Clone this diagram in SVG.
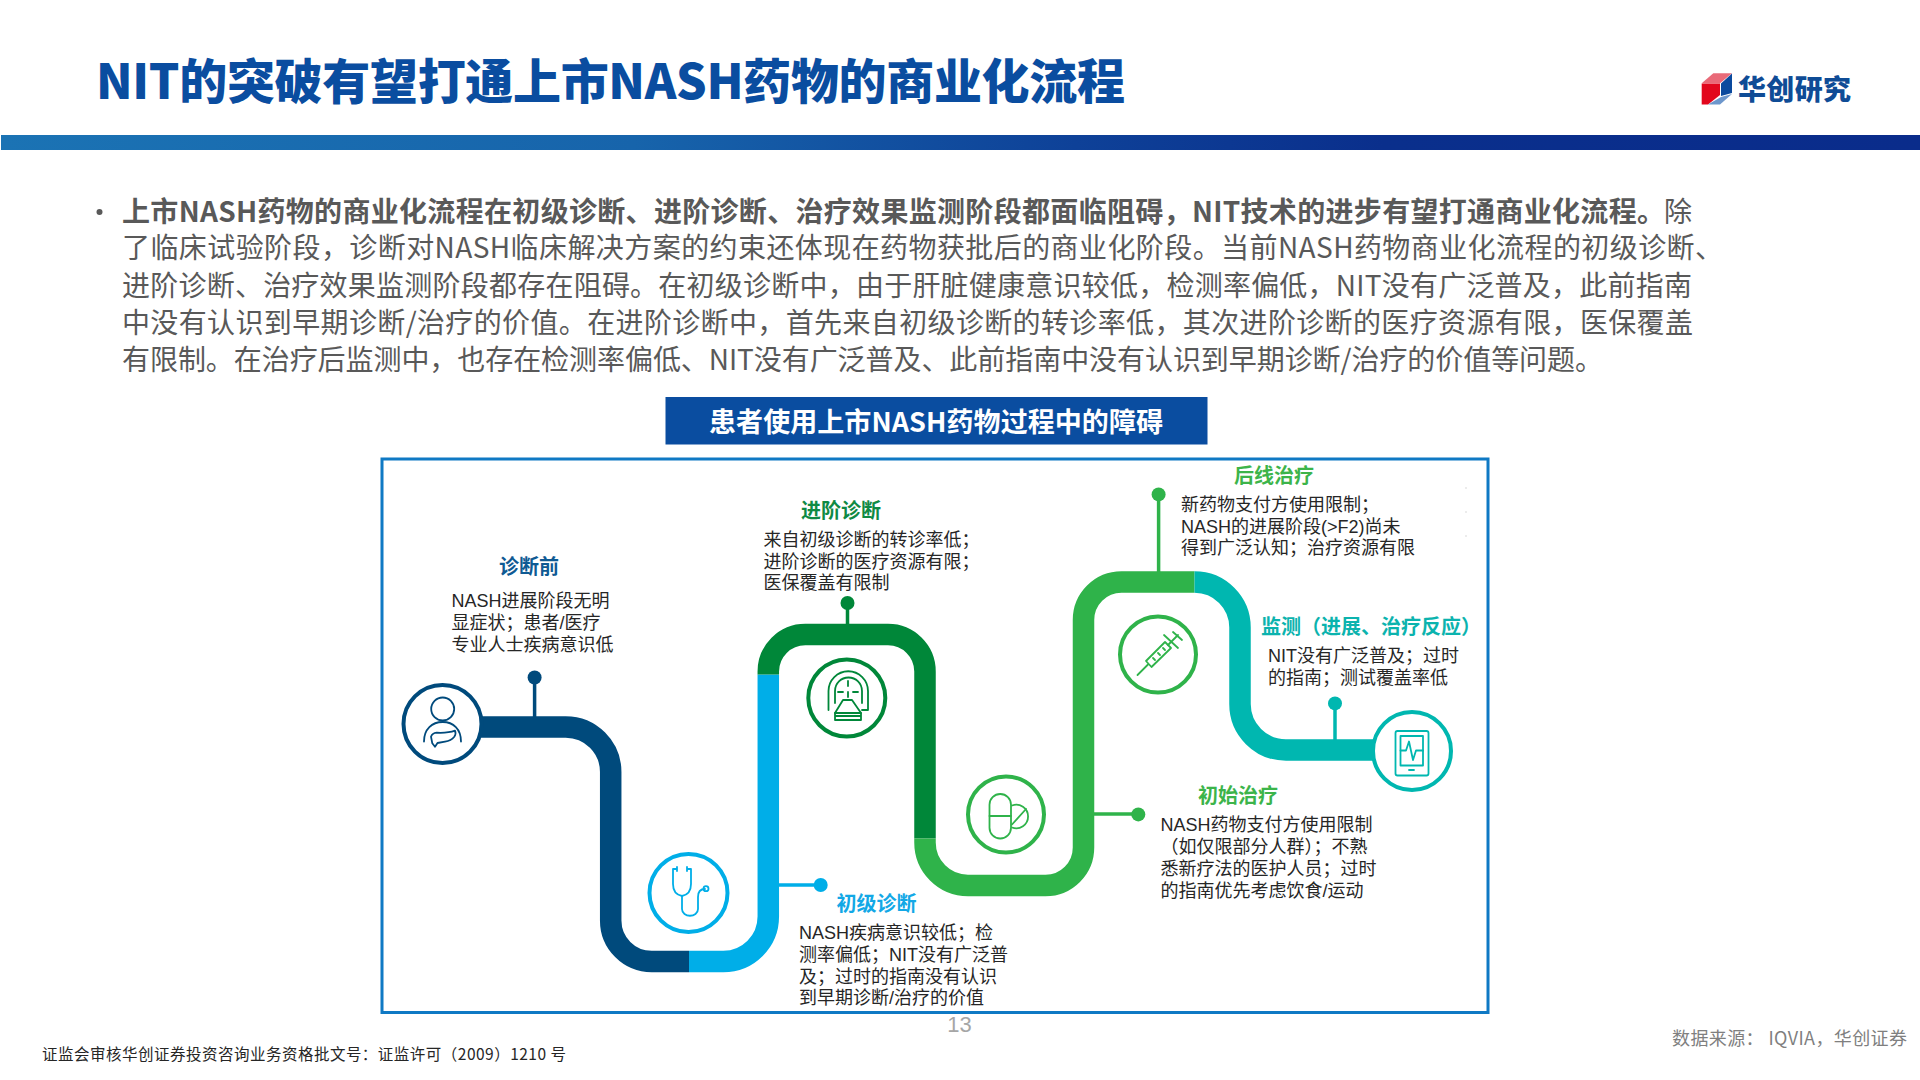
<svg xmlns="http://www.w3.org/2000/svg" width="1920" height="1080" viewBox="0 0 1920 1080">
<style>
text{font-family:"Liberation Sans","Noto Sans CJK SC",sans-serif}
.cjk{font-family:"Noto Sans CJK SC","Liberation Sans",sans-serif}
.p{font-size:28px;fill:#595959}
.b{font-weight:700}
.t{font-size:18px;fill:#262626}
.h{font-size:20px;font-weight:700;font-family:"Noto Sans CJK SC",sans-serif}
.seg{fill:none;stroke-width:21.5}
.stem{fill:none;stroke-width:3.5}
.ring{fill:#fff;stroke-width:4}
.ic{fill:none;stroke-width:1.8;stroke-linecap:round;stroke-linejoin:round}
</style>
<defs>
<linearGradient id="bar" x1="0" x2="1" y1="0" y2="0">
<stop offset="0" stop-color="#1b73b4"/><stop offset="0.33" stop-color="#1764ab"/><stop offset="0.56" stop-color="#0e4198"/><stop offset="0.72" stop-color="#0a2f8c"/><stop offset="1" stop-color="#0a2c8b"/>
</linearGradient>
</defs>
<rect width="1920" height="1080" fill="#fff"/>
<rect x="1" y="135" width="1919" height="15" fill="url(#bar)"/>
<text class="cjk" x="96" y="99" font-size="48" font-weight="900" fill="#0a4da0" textLength="1029">NIT的突破有望打通上市NASH药物的商业化流程</text>
<g id="logo">
<polygon points="1701.7,83.3 1713.3,73.3 1732,73.3 1720,83.3" fill="#e96a78"/>
<polygon points="1701.7,83.5 1720,83.5 1720,95 1708,104.5 1701.7,104.500" fill="#e2071d"/>
<polygon points="1721,83.5 1732,73.500 1732,93 1721,96" fill="#0b4a9e"/>
<polygon points="1708,104.5 1720,104.500 1732,94 1721,97" fill="#6d97cc"/>
<text class="cjk" x="1738" y="100" font-size="28" font-weight="900" fill="#0f4c96" textLength="113">华创研究</text>
</g>
<circle cx="99.5" cy="212" r="3" fill="#595959"/>
<g>
<text class="p b cjk" x="122" y="222" textLength="1543">上市NASH药物的商业化流程在初级诊断、进阶诊断、治疗效果监测阶段都面临阻碍，NIT技术的进步有望打通商业化流程。</text>
<text class="p cjk" x="1664" y="222">除</text>
<text class="p cjk" x="122" y="258" textLength="1601">了临床试验阶段，诊断对NASH临床解决方案的约束还体现在药物获批后的商业化阶段。当前NASH药物商业化流程的初级诊断、</text>
<text class="p cjk" x="122" y="296" textLength="1570">进阶诊断、治疗效果监测阶段都存在阻碍。在初级诊断中，由于肝脏健康意识较低，检测率偏低，NIT没有广泛普及，此前指南</text>
<text class="p cjk" x="122" y="333" textLength="1571">中没有认识到早期诊断/治疗的价值。在进阶诊断中，首先来自初级诊断的转诊率低，其次进阶诊断的医疗资源有限，医保覆盖</text>
<text class="p cjk" x="122" y="370" textLength="1481">有限制。在治疗后监测中，也存在检测率偏低、NIT没有广泛普及、此前指南中没有认识到早期诊断/治疗的价值等问题。</text>
</g>
<g id="banner">
<rect x="665.5" y="397" width="542" height="47.500" fill="#0a4da0"/>
<text class="cjk" x="709" y="432" font-size="27" font-weight="700" fill="#fff" textLength="454">患者使用上市NASH药物过程中的障碍</text>
</g>
<rect id="frame" x="382" y="459" width="1106" height="553.500" fill="#fff" stroke="#0f79c4" stroke-width="3"/>
<path d="M1466 487v50" stroke="#d9d9d9" stroke-width="1" stroke-dasharray="2 22" fill="none"/>
<g id="connectors">
<path class="seg" stroke="#004a7c" d="M470 727H565.7A45 45 0 0 1 610.7 772V920.5A41 41 0 0 0 651.7 961.5H689"/>
<path class="seg" stroke="#00aee8" d="M689 961.5H723.3A45 45 0 0 0 768.3 916.5V674.6"/>
<path class="seg" stroke="#008739" d="M768.3 674.6V671.5A37 37 0 0 1 805.3 634.5H888A37 37 0 0 1 925 671.5V838.5"/>
<path class="seg" stroke="#2fb34a" d="M925 838.5V842.5A43 43 0 0 0 968 885.5H1045.5A38 38 0 0 0 1083.5 847.5V620A38 38 0 0 1 1121.5 582H1194.5"/>
<path class="seg" stroke="#00b7b0" d="M1194.5 582A45.5 45.5 0 0 1 1240 627.5V704A46 46 0 0 0 1286 750H1380"/>
<path class="stem" stroke="#004a7c" d="M534.6 677V717"/>
<path class="stem" stroke="#00aee8" d="M778 885H821"/>
<path class="stem" stroke="#008739" d="M847.5 603V625"/>
<path class="stem" stroke="#2fb34a" d="M1093 814H1138"/>
<path class="stem" stroke="#2fb34a" d="M1158.6 494V572"/>
<path class="stem" stroke="#00b7b0" d="M1335 703V740"/>
<circle cx="534.6" cy="677.5" r="7" fill="#004a7c"/>
<circle cx="820.7" cy="885" r="7" fill="#00aee8"/>
<circle cx="847.5" cy="603" r="7" fill="#008739"/>
<circle cx="1138.3" cy="814.4" r="7" fill="#2fb34a"/>
<circle cx="1158.6" cy="494.4" r="7" fill="#2fb34a"/>
<circle cx="1335" cy="703.4" r="7" fill="#00b7b0"/>
</g>
<g id="node-prediagnosis">
<circle class="ring" cx="442.5" cy="724" r="39" stroke="#004a7c"/>
<g class="ic" stroke="#004a7c">
<circle cx="442.7" cy="709" r="11.5"/>
<path d="M424 741.5C424 729 432 722 442.7 722S461 729 461 741.5"/>
<path d="M431 736.700C432 734 434 733 436.700 732.700C443 733 450 732.500 455 730.700C456 733 455.500 735 454.300 736.700C452 739.500 449 741 445 741.700L437.500 743L435 746.700L432.300 743.300Z"/>
</g>
<text class="h" x="499" y="573.500" fill="#0f5a93">诊断前</text>
<text class="t" x="451.500" y="607">NASH进展阶段无明</text>
<text class="t" x="451.500" y="629">显症状；患者/医疗</text>
<text class="t" x="451.500" y="651">专业人士疾病意识低</text>
</g>
<g id="node-initial-diagnosis">
<circle class="ring" cx="688.500" cy="893" r="39" stroke="#00aee8"/>
<g class="ic" stroke="#00aee8">
<path d="M677 869H673V884C673 892 677 895 682 896C687 895 691 892 691 884V869H687M677 867V871M687 867V871"/>
<path d="M682 896V909C682 918 698 918 698 909V897C698 891 701 889 705 889"/>
<circle cx="706" cy="888.700" r="2.500"/>
</g>
<text class="h" x="836.500" y="911" fill="#13a8e6">初级诊断</text>
<text class="t" x="799" y="939">NASH疾病意识较低；检</text>
<text class="t" x="799" y="960.500">测率偏低；NIT没有广泛普</text>
<text class="t" x="799" y="982.500">及；过时的指南没有认识</text>
<text class="t" x="799" y="1004">到早期诊断/治疗的价值</text>
</g>
<g id="node-advanced-diagnosis">
<circle class="ring" cx="846.800" cy="698" r="38.500" stroke="#008739"/>
<g class="ic" stroke="#008739">
<path d="M828.500 710V691A19.500 19.500 0 0 1 868 691V710H862"/>
<path d="M835 703V691A13.500 13.500 0 0 1 862 691V703"/>
<path d="M843 700L852 700L861 713H835Z"/>
<path d="M835 713V720H861V713M836 716H860"/>
<path d="M848 681V686M848 692V697M838 692H843M853 692H858"/>
</g>
<text class="h" x="801" y="517.500" fill="#0f8a44">进阶诊断</text>
<text class="t" x="763.500" y="546">来自初级诊断的转诊率低；</text>
<text class="t" x="763.500" y="567.500">进阶诊断的医疗资源有限；</text>
<text class="t" x="763.500" y="588.500">医保覆盖有限制</text>
</g>
<g id="node-initial-treatment">
<circle class="ring" cx="1006" cy="814.500" r="38" stroke="#2fb34a"/>
<g class="ic" stroke="#2fb34a">
<rect x="989.500" y="794" width="21.500" height="44.500" rx="10.700"/>
<path d="M989.500 816H1011"/>
<path d="M1012 805.500A11.800 11.800 0 1 1 1012 827.500"/>
<path d="M1012 824.500L1026 809"/>
</g>
<text class="h" x="1198" y="803" fill="#3cb44a">初始治疗</text>
<text class="t" x="1160.500" y="831">NASH药物支付方使用限制</text>
<text class="t" x="1160.500" y="853">（如仅限部分人群）；不熟</text>
<text class="t" x="1160.500" y="875">悉新疗法的医护人员；过时</text>
<text class="t" x="1160.500" y="896.500">的指南优先考虑饮食/运动</text>
</g>
<g id="node-later-treatment">
<circle class="ring" cx="1158" cy="654.500" r="38" stroke="#2fb34a"/>
<g class="ic" stroke="#2fb34a">
<path d="M1137.500 675L1148 664.500"/>
<path d="M1146 661L1151.500 667L1171 648L1165 642Z"/>
<path d="M1164 635L1178 648M1168 645L1178 635M1173 632L1182 640"/>
<path d="M1153 658l2 2M1158 653l2 2M1163 648l2 2"/>
</g>
<text class="h" x="1234" y="483" fill="#3cb44a">后线治疗</text>
<text class="t" x="1181" y="511">新药物支付方使用限制；</text>
<text class="t" x="1181" y="532.500">NASH的进展阶段(&gt;F2)尚未</text>
<text class="t" x="1181" y="554">得到广泛认知；治疗资源有限</text>
</g>
<g id="node-monitoring">
<circle class="ring" cx="1412" cy="751" r="39" stroke="#00b7b0"/>
<g class="ic" stroke="#00b7b0">
<rect x="1395.500" y="731" width="33" height="44.500" rx="2"/>
<rect x="1400.500" y="736" width="22.500" height="29.500"/>
<path d="M1400.500 750.500H1406L1409 741.500L1413 760L1416 750.500H1423"/>
<path d="M1409 770H1414"/>
</g>
<text class="h" x="1261" y="633.500" fill="#0bb3ae">监测（进展、治疗反应）</text>
<text class="t" x="1268" y="662">NIT没有广泛普及；过时</text>
<text class="t" x="1268" y="684">的指南；测试覆盖率低</text>
</g>
<text x="959.500" y="1032" font-size="22" text-anchor="middle" fill="#a6a6a6">13</text>
<text class="cjk" x="42" y="1060" font-size="15.500" fill="#262626" textLength="524">证监会审核华创证券投资咨询业务资格批文号：证监许可（2009）1210 号</text>
<text class="cjk" x="1672" y="1044.500" font-size="18" fill="#7f7f7f" textLength="235">数据来源： IQVIA，华创证券</text>
</svg>
